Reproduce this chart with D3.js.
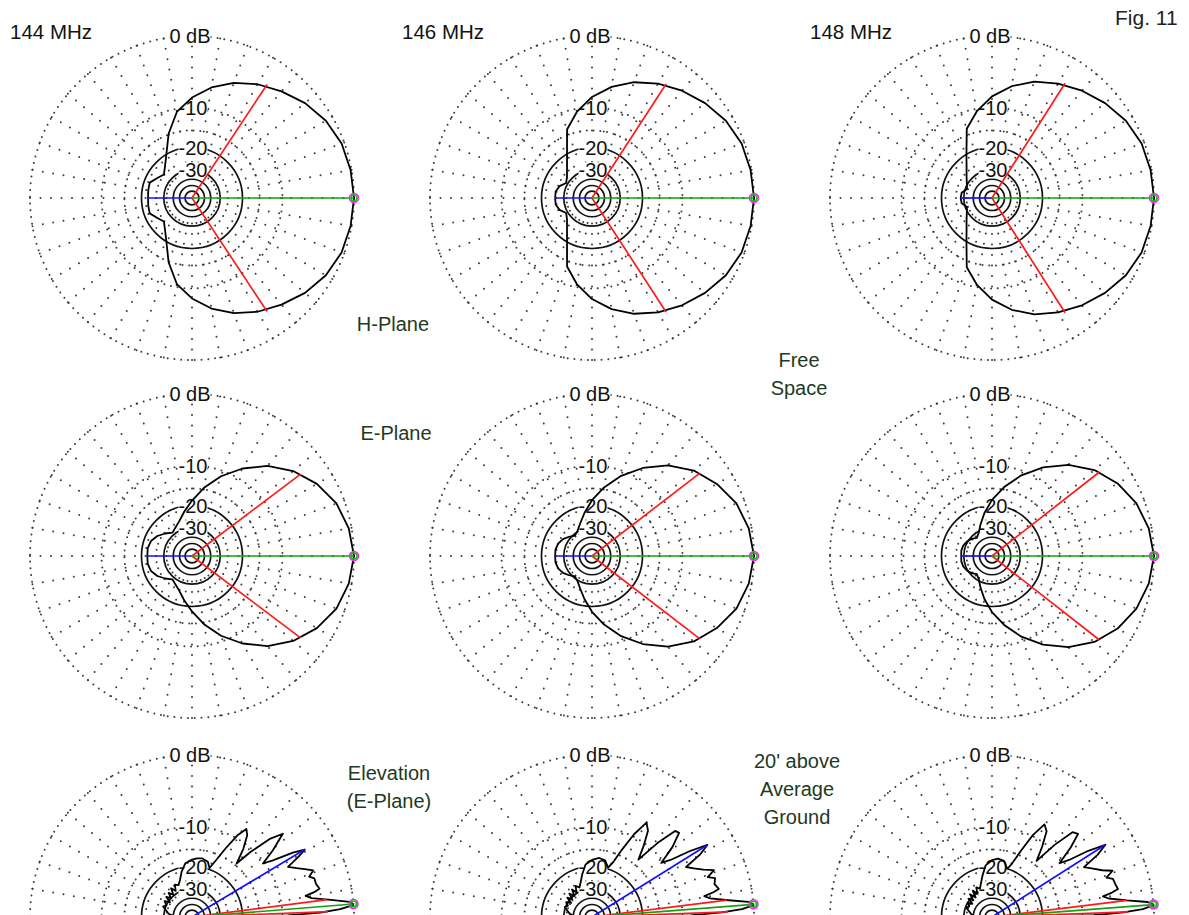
<!DOCTYPE html>
<html><head><meta charset="utf-8">
<script src="https://cdn.jsdelivr.net/npm/d3@7"></script>
<style>
body{margin:0;background:#fff;}
svg{display:block;font-family:"Liberation Sans",Arial,sans-serif;}
</style>
</head><body>
<svg id="chart" width="1189" height="915"></svg>
<script>
// ---------- data ----------
const freqLabels = ["144 MHz", "146 MHz", "148 MHz"];
const figLabel = "Fig. 11";
const ringLabels = ["0 dB", "-10", "-20", "-30"];
const ringLabelDb = [0, -10, -20, -30];
const dottedRingDb = [0, -10, -15];
const solidRingDb = [-20, -30, -37, -44, -54];

// azimuth / E-plane cuts, 0..180 deg (pattern symmetric about boresight)
const planeAngles = [0,10,20,30,40,50,60,70,80,90,100,110,120,130,140,150,160,170,180];
const hPlane144 = [0,-0.1,-0.3,-0.8,-1.6,-2.6,-3.6,-4.8,-6.3,-8.2,-10.6,-14.8,-19.8,-23.2,-25.5,-24.0,-22.0,-22.2,-22.4];
const hPlane146 = [0,-0.1,-0.3,-0.8,-1.6,-2.5,-3.5,-4.7,-6.2,-8.1,-10.6,-13.7,-20.2,-24.5,-27.5,-29.0,-26.5,-25.4,-25.4];
const hPlane148 = [0,-0.1,-0.3,-0.8,-1.6,-2.5,-3.5,-4.6,-6.1,-8.0,-10.5,-13.5,-19.8,-24.2,-27.2,-29.5,-31.0,-28.5,-28.2];
const ePlane144 = [0,-0.3,-0.9,-2.0,-3.5,-5.5,-8.1,-11.1,-14.6,-18.4,-22.0,-25.3,-27.3,-28.7,-26.3,-24.0,-22.5,-22.0,-22.1];
const ePlane146 = [0,-0.3,-0.9,-2.0,-3.4,-5.4,-8.0,-11.0,-14.5,-18.3,-22.5,-26.5,-29.5,-31.0,-29.0,-27.0,-25.8,-25.3,-25.4];
const ePlane148 = [0,-0.3,-0.9,-1.9,-3.3,-5.3,-7.9,-10.9,-14.4,-18.2,-22.5,-27.0,-31.0,-33.0,-31.0,-29.5,-28.6,-28.3,-28.5];
const hBeamAngles = [56.5, 57, 57.5];   // -3 dB points
const eBeamAngles = [37, 37.5, 38];

// elevation cuts over ground, 0..180 deg
const elevAngles144 = [0,1,2,3,4,4.6,5.5,7,9,10.5,11.5,12.5,15,17.5,19,21,23,25,27.6,29.5,30.9,32.5,35,37,39.5,42.5,45,48,50.2,53,56,58.3,61,64,67,70.3,74,80,85,90,97,103,108,113,118,122,126,130,134,138,142,146,150,155,160,166,172,178,180];
const elev144 = [-40,-9,-4,-1.5,-0.3,0,-0.4,-2.5,-5,-5.8,-4.5,-3.7,-4.0,-4.0,-4.6,-3.8,-4.8,-5.8,-6.9,-4.8,-3.6,-5.2,-8.5,-10.3,-7.5,-4.7,-6.5,-10.5,-14.5,-11,-8.5,-7.7,-9.5,-13,-16.5,-19.5,-17.8,-17.2,-17.4,-17.8,-18.8,-21.5,-24.5,-26.5,-25.5,-28.5,-26,-29.5,-27,-30,-27.5,-31,-28,-30,-28.5,-31,-33,-38,-40];
const elevAngles146 = [0,1,2,3,4,4.5,5.5,7,9,10.5,11.5,12.5,15,17.5,19,21,23,25.5,28,30,32,34,36,38,41,44,46,48.5,51,54,57,60,63,66,69,72,77,83,90,97,103,108,113,118,122,126,130,134,138,142,146,150,155,160,166,172,178,180];
const elev146 = [-40,-8.5,-3.8,-1.3,-0.2,0,-0.5,-2.8,-5.2,-6,-4.6,-3.8,-4.2,-3.9,-4.8,-3.7,-5,-6.2,-7.2,-4.5,-3.0,-5.5,-8.8,-10.5,-7.2,-5,-5.2,-8.5,-13.5,-10.5,-7.8,-6.8,-9.5,-13.5,-17.5,-19.5,-17.6,-17.2,-17.9,-19.2,-22.5,-25.5,-27.8,-26.2,-29.5,-26.8,-30.5,-27.5,-31,-28.2,-32,-29,-31,-29.5,-32,-34,-38,-40];
const elevAngles148 = [0,1,2,3,4,4.4,5.5,7,9,10.5,11.5,12.5,15,17.5,19,21,23,26,28.5,30.5,32.5,34.5,36.5,38.5,41.5,44,46.5,49,51.5,54.5,57.5,60.5,63.5,66.5,69.5,72.5,78,84,90,97,103,108,113,118,122,126,130,134,138,142,146,150,155,160,166,172,178,180];
const elev148 = [-40,-8,-3.6,-1.2,-0.2,0,-0.6,-3,-5.4,-6.2,-4.8,-3.9,-4.1,-4.2,-5,-3.9,-5.2,-6.5,-7.5,-4.8,-3.2,-5.6,-9,-10.8,-7.4,-5.2,-5.6,-9,-14,-10.8,-8,-7.2,-9.8,-14,-18,-20,-17.8,-17.4,-18,-19.5,-23,-26,-28.5,-27,-30.5,-27.5,-31.5,-28,-32,-29,-33,-30,-32,-30.5,-33,-35,-38,-40];
const elevMaxAngles = [4.6, 4.5, 4.4];
const elevBeamAngles = [[2.3, 7.3], [2.2, 7.1], [2.2, 7.0]];
const elevBlueAngles = [30.9, 32, 32.5];
const elevBlueDb = [-3.6, -3.0, -3.2];

const sideLabels = [
  {lines: ["H-Plane"], x: 393, y: [331]},
  {lines: ["E-Plane"], x: 396, y: [440]},
  {lines: ["Free", "Space"], x: 799, y: [367, 395]},
  {lines: ["Elevation", "(E-Plane)"], x: 389, y: [780, 808]},
  {lines: ["20' above", "Average", "Ground"], x: 797, y: [768, 796, 824]}
];

// ---------- layout ----------
const R = 162;
const colX = [192, 592, 992];
const rowY = [198, 556, 917];
const svg = d3.select("#chart");

// ARRL log-periodic radial scale: r = R * 0.89^(-dB/2)  ==  R * P^0.25305
const rScale = d3.scalePow().exponent(0.25305).domain([0, 1]).range([0, R]);
const rad = db => rScale(Math.pow(10, db / 10));
// angle: 0 deg = right, counter-clockwise -> d3 radial angle (clockwise from 12 o'clock)
const aScale = d3.scaleLinear().domain([0, 360]).range([Math.PI / 2, Math.PI / 2 - 2 * Math.PI]);
const spokeAngles = d3.range(0, 360, 10);

const radialLine = d3.lineRadial().angle(d => aScale(d[0])).radius(d => rad(d[1]));

function drawGrid(g) {
  spokeAngles.forEach(a => {
    const p1 = d3.pointRadial(aScale(a), R), p0 = d3.pointRadial(aScale(a), 18);
    g.append("line").attr("x1", p1[0]).attr("y1", p1[1]).attr("x2", p0[0]).attr("y2", p0[1])
      .attr("stroke", "#3a3a3a").attr("stroke-width", 2).attr("stroke-linecap", "round")
      .attr("stroke-dasharray", "0 10.5");
  });
  dottedRingDb.forEach(db => {
    g.append("circle").attr("r", rad(db)).attr("fill", "none").attr("stroke", "#3a3a3a")
      .attr("stroke-width", 2).attr("stroke-linecap", "round").attr("stroke-dasharray", "0 6.8");
  });
  solidRingDb.forEach(db => {
    g.append("circle").attr("r", rad(db)).attr("fill", "none").attr("stroke", "#111")
      .attr("stroke-width", 1.7);
  });
  ringLabels.forEach((t, i) => {
    const y = -rad(ringLabelDb[i]);
    const x = i === 0 ? -2 : 1;
    const txt = g.append("text").attr("x", x).attr("y", y).attr("dy", "0.36em")
      .attr("text-anchor", "middle").attr("font-size", 20).attr("fill", "#111").text(t);
    const bb = txt.node().getBBox();
    g.insert("rect", () => txt.node()).attr("x", bb.x).attr("y", y - 7.5)
      .attr("width", bb.width).attr("height", 15).attr("fill", "#fff");
  });
}

function drawRay(g, ang, db, color) {
  const p = d3.pointRadial(aScale(ang), rad(db));
  g.append("line").attr("x1", 0).attr("y1", 0).attr("x2", p[0]).attr("y2", p[1])
    .attr("stroke", color).attr("stroke-width", 1.7);
}
function drawMarker(g, ang) {
  const p = d3.pointRadial(aScale(ang), rad(0));
  g.append("circle").attr("cx", p[0]).attr("cy", p[1]).attr("r", 4.5).attr("fill", "none")
    .attr("stroke", "#ff20ff").attr("stroke-width", 1.6);
  g.append("circle").attr("cx", p[0]).attr("cy", p[1]).attr("r", 3).attr("fill", "none")
    .attr("stroke", "#10c010").attr("stroke-width", 1.6);
}

function symmetricPoints(dbs) {
  const pts = planeAngles.map((a, i) => [a, dbs[i]]);
  const mirror = planeAngles.slice(1, -1).reverse().map(a => [360 - a, dbs[planeAngles.indexOf(a)]]);
  return pts.concat(mirror);
}

const hSets = [hPlane144, hPlane146, hPlane148];
const eSets = [ePlane144, ePlane146, ePlane148];
const elevSets = [[elevAngles144, elev144], [elevAngles146, elev146], [elevAngles148, elev148]];

for (let c = 0; c < 3; c++) {
  // row 1: H-plane
  let g = svg.append("g").attr("transform", `translate(${colX[c]},${rowY[0]})`);
  drawGrid(g);
  g.append("path").attr("d", radialLine.curve(d3.curveLinearClosed)(symmetricPoints(hSets[c])))
    .attr("fill", "none").attr("stroke", "#000").attr("stroke-width", 1.8).attr("stroke-linejoin", "round");
  drawRay(g, 180, hSets[c][hSets[c].length - 1], "#1010ff");
  drawRay(g, hBeamAngles[c], -3, "#ff1a1a");
  drawRay(g, 360 - hBeamAngles[c], -3, "#ff1a1a");
  drawRay(g, 0, 0, "#12a012");
  drawMarker(g, 0);

  // row 2: E-plane
  g = svg.append("g").attr("transform", `translate(${colX[c]},${rowY[1]})`);
  drawGrid(g);
  g.append("path").attr("d", radialLine.curve(d3.curveLinearClosed)(symmetricPoints(eSets[c])))
    .attr("fill", "none").attr("stroke", "#000").attr("stroke-width", 1.8).attr("stroke-linejoin", "round");
  drawRay(g, 180, eSets[c][eSets[c].length - 1], "#1010ff");
  drawRay(g, eBeamAngles[c], -3, "#ff1a1a");
  drawRay(g, 360 - eBeamAngles[c], -3, "#ff1a1a");
  drawRay(g, 0, 0, "#12a012");
  drawMarker(g, 0);

  // row 3: elevation
  g = svg.append("g").attr("transform", `translate(${colX[c]},${rowY[2]})`);
  drawGrid(g);
  const [ea, ed] = elevSets[c];
  g.append("path").attr("d", radialLine.curve(d3.curveLinear)(ea.map((a, i) => [a, ed[i]])))
    .attr("fill", "none").attr("stroke", "#000").attr("stroke-width", 1.8).attr("stroke-linejoin", "round");
  drawRay(g, elevBlueAngles[c], elevBlueDb[c], "#1010ff");
  drawRay(g, elevBeamAngles[c][0], -3, "#ff1a1a");
  drawRay(g, elevBeamAngles[c][1], -3, "#ff1a1a");
  drawRay(g, elevMaxAngles[c], 0, "#12a012");
  drawMarker(g, elevMaxAngles[c]);
}

// frequency labels
const freqX = [10, 402, 810];
freqLabels.forEach((t, i) => {
  svg.append("text").attr("x", freqX[i]).attr("y", 39).attr("font-size", 20.5).attr("fill", "#111").text(t);
});
svg.append("text").attr("x", 1115).attr("y", 25).attr("font-size", 21).attr("fill", "#222").text(figLabel);

sideLabels.forEach(s => {
  s.lines.forEach((l, i) => {
    svg.append("text").attr("x", s.x).attr("y", s.y[i]).attr("text-anchor", "middle")
      .attr("font-size", 20).attr("fill", "#1e3a1e").text(l);
  });
});
</script>
</body></html>
